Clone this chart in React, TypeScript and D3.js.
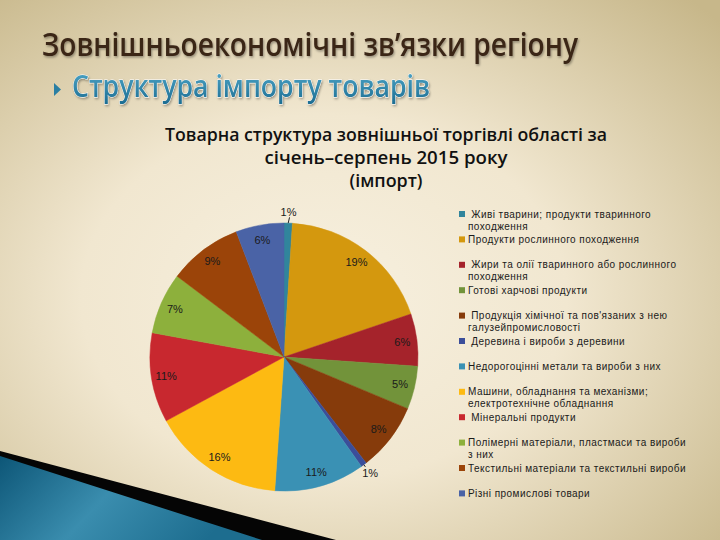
import React from "react";
import * as d3 from "d3";

const categories = [
  "Живі тварини; продукти тваринного походження",
  "Продукти рослинного походження",
  "Жири та олії тваринного або рослинного походження",
  "Готові харчові продукти",
  "Продукція хімічної та пов'язаних з нею галузейпромисловості",
  "Деревина і вироби з деревини",
  "Недорогоцінні метали та вироби з них",
  "Машини, обладнання та механізми; електротехнічне обладнання",
  "Мінеральні продукти",
  "Полімерні матеріали, пластмаси та вироби з них",
  "Текстильні матеріали та текстильні вироби",
  "Різні промислові товари",
];

const legendLines: string[][] = [
  [" Живі тварини; продукти тваринного", "походження"],
  ["Продукти рослинного походження"],
  [" Жири та олії тваринного або рослинного", "походження"],
  ["Готові харчові продукти"],
  [" Продукція хімічної та пов'язаних з нею", "галузейпромисловості"],
  [" Деревина і вироби з деревини"],
  ["Недорогоцінні метали та вироби з них"],
  ["Машини, обладнання та механізми;", "електротехнічне обладнання"],
  [" Мінеральні продукти"],
  ["Полімерні матеріали, пластмаси та вироби", "з них"],
  ["Текстильні матеріали та текстильні вироби"],
  ["Різні промислові товари"],
];

const values = [1.0, 18.8, 6.3, 5.2, 8.2, 0.7, 10.9, 16.0, 10.8, 7.4, 8.9, 5.8];

const colors = [
  "#31859C", "#D4980E", "#A5232B", "#72933A", "#863B0B", "#3B4E9A",
  "#3A91B4", "#FDBA12", "#C8282F", "#8DB03C", "#9B4409", "#4A63A6",
];

const mainTitle = "Зовнішньоекономічні зв’язки регіону";
const subTitle = "Структура імпорту товарів";
const chartTitle = [
  "Товарна структура зовнішньої торгівлі області за",
  "січень–серпень 2015 року",
  "(імпорт)",
];

export default function App() {
  const W = 720, H = 540;
  const cx = 284, cy = 357, R = 134;
  const pie = d3.pie<number>().sort(null).value((d) => d).startAngle(0).endAngle(2 * Math.PI);
  const arcs = pie(values);
  const arcGen = d3.arc<d3.PieArcDatum<number>>().innerRadius(0).outerRadius(R);
  const total = d3.sum(values);

  const legendY0 = 214;
  const legendStep = 25.4;
  const legendScale = d3.scaleLinear().domain([0, 1]).range([legendY0, legendY0 + legendStep]);

  return (
    <svg width={W} height={H} style={{ position: "absolute", left: 0, top: 0 }}>
      <defs>
        <radialGradient id="bg" cx="45%" cy="55%" r="75%">
          <stop offset="0" stopColor="#F7F0DF" />
          <stop offset="0.45" stopColor="#F1E7D0" />
          <stop offset="1" stopColor="#C7B78A" />
        </radialGradient>
        <linearGradient id="blueband" x1="0" y1="0" x2="1" y2="0.3">
          <stop offset="0" stopColor="#0D5677" />
          <stop offset="0.5" stopColor="#3A8DAE" />
          <stop offset="1" stopColor="#1D6D8F" />
        </linearGradient>
        <linearGradient id="subgrad" x1="0" y1="0" x2="0" y2="1">
          <stop offset="0" stopColor="#55AECF" />
          <stop offset="1" stopColor="#1A6A8F" />
        </linearGradient>
        <filter id="shadow" x="-5%" y="-20%" width="110%" height="150%">
          <feDropShadow dx="1" dy="1.5" stdDeviation="1" floodColor="#000" floodOpacity="0.35" />
        </filter>
      </defs>
      <rect x={0} y={0} width={W} height={H} fill="url(#bg)" />
      <polygon points="0,451 336,540 0,540" fill="#050505" />
      <polygon points="0,456 262,540 0,540" fill="url(#blueband)" />

      <text
        x={42}
        y={56}
        fontFamily="'Open Sans', sans-serif"
        fontWeight={600}
        fontSize={33}
        fill="#3A2619"
        textLength={536}
        lengthAdjust="spacingAndGlyphs"
        filter="url(#shadow)"
      >
        {mainTitle}
      </text>
      <path d="M54,83 L61,89.5 L54,96 Z" fill="#2A7FA3" />
      <text
        x={72}
        y={97}
        fontFamily="'Open Sans', sans-serif"
        fontWeight={600}
        fontSize={30}
        fill="url(#subgrad)"
        stroke="#ffffff"
        strokeWidth={0.8}
        paintOrder="stroke"
        textLength={358}
        lengthAdjust="spacingAndGlyphs"
        filter="url(#shadow)"
      >
        {subTitle}
      </text>

      {chartTitle.map((t, i) => (
        <text
          key={i}
          x={386}
          y={141 + i * 23}
          textAnchor="middle"
          fontFamily="'Open Sans', sans-serif"
          fontWeight={600}
          fontSize={18}
          fill="#111"
          textLength={[442, 243, 73][i]}
          lengthAdjust="spacingAndGlyphs"
        >
          {t}
        </text>
      ))}

      <g transform={`translate(${cx},${cy})`}>
        {arcs.map((a, i) => (
          <path key={i} d={arcGen(a) || ""} fill={colors[i]} stroke={colors[i]} strokeWidth={0.5} />
        ))}
        {arcs.map((a, i) => {
          const pct = Math.round((a.value / total) * 100);
          const mid = (a.startAngle + a.endAngle) / 2;
          const small = a.value < 1.5;
          const rr = small ? R * 1.08 : R * 0.89;
          const x = rr * Math.sin(mid);
          const y = -rr * Math.cos(mid);
          const x1 = R * Math.sin(mid), y1 = -R * Math.cos(mid);
          const x2 = R * 1.02 * Math.sin(mid), y2 = -R * 1.02 * Math.cos(mid);
          return (
            <g key={i}>
              {small && <line x1={x1} y1={y1} x2={i === 0 ? x + 1 : x2} y2={i === 0 ? y + 5 : y2} stroke="#222" strokeWidth={1} />}
              <text
                x={x}
                y={y}
                dy="0.35em"
                textAnchor="middle"
                fontFamily="'Liberation Sans', Arial, sans-serif"
                fontSize={11}
                fill="#1a1a1a"
              >
                {pct}%
              </text>
            </g>
          );
        })}
      </g>

      <g>
        {categories.map((c, i) => {
          const y = legendScale(i);
          return (
            <g key={i}>
              <title>{c}</title>
              <rect x={459} y={y - 3} width={6} height={6} fill={colors[i]} />
              {legendLines[i].map((ln, j) => (
                <text
                  key={j}
                  x={468}
                  y={y + j * 12}
                  dy="0.35em"
                  fontFamily="'Liberation Sans', Arial, sans-serif"
                  fontSize={10}
                  letterSpacing={0.45}
                  fill="#1a1a1a"
                  style={{ whiteSpace: "pre" }}
                >
                  {ln}
                </text>
              ))}
            </g>
          );
        })}
      </g>
    </svg>
  );
}
